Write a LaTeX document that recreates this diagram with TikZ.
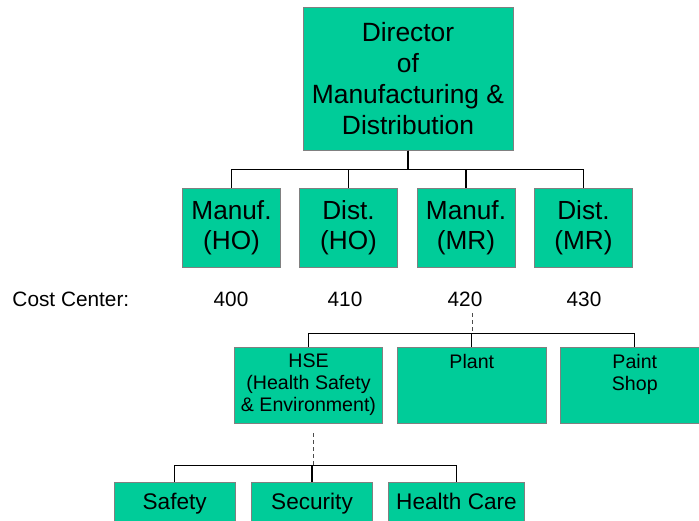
\documentclass[tikz,border=0pt]{standalone}
\usepackage{fontspec}
\setmainfont{Liberation Sans}
\definecolor{chartgreen}{RGB}{0,204,153}
\definecolor{chartgray}{RGB}{128,128,128}

\begin{document}
\begin{tikzpicture}[x=1pt,y=1pt]
    \tikzstyle{unit}=[draw=chartgray,fill=chartgreen,line width=1pt,inner sep=0pt,align=center]
    \tikzstyle{big}=[unit,font=\fontsize{26.4}{31}\selectfont,minimum width=210pt,minimum height=143pt]
    \tikzstyle{mid}=[unit,font=\fontsize{26.2}{30}\selectfont,minimum width=98pt,minimum height=79pt]
    \tikzstyle{dept}=[unit,minimum width=149pt,minimum height=76pt]
    \tikzstyle{depttext}=[inner sep=0pt,align=center,anchor=north,font=\fontsize{19.6}{22}\selectfont]
    \tikzstyle{leaf}=[unit,anchor=north,font=\fontsize{22.6}{27}\selectfont,text height=27.6pt,text depth=30pt]
    \tikzstyle{note}=[inner sep=0pt,font=\fontsize{20.8}{24}\selectfont]
    \tikzstyle{link}=[line width=1.3pt,black]
    \tikzstyle{cut}=[line width=1pt,black!70,dash pattern=on 4pt off 3pt]
    \useasboundingbox (0,0) rectangle (699,-520);
    \node (dir)[big] at (408,-78.5) {Director\\of\\Manufacturing \&\\Distribution};
    \foreach \n/\x/\t/\s in {mho/231.5/Manuf./HO, dho/348.5/Dist./HO, mmr/466/Manuf./MR, dmr/583.5/Dist./MR}
        \node (\n)[mid] at (\x,-227.5) {\t\\(\s)};
    \foreach \n in {mho,dho,mmr,dmr}
        \draw[link] (dir.south) -- ++(0,-19) -| (\n.north);
    \node (cc)[note,anchor=base west] at (12.3,-306.7) {Cost Center:};
    \foreach \n/\x/\v in {c400/231/400, c410/345/410, c420/465/420, c430/584/430}
        \node (\n)[note,anchor=base] at (\x,-306.7) {\v};
    \node (hse)[dept,minimum width=148.4pt] at (308.5,-385) {};
    \node (plant)[dept] at (471.8,-385) {};
    \node (paint)[dept] at (634.8,-385) {};
    \node (hsetext)[depttext] at ([yshift=-7.3pt]hse.north) {HSE\\(Health Safety\\\& Environment)};
    \node (planttext)[depttext] at ([yshift=-7.3pt]plant.north) {Plant};
    \node (painttext)[depttext] at ([yshift=-7.3pt]paint.north) {Paint\\Shop};
    \coordinate (top3) at (472.7,-313);
    \coordinate (hub3) at (472.7,-333.7);
    \draw[cut] (top3) -- (hub3);
    \foreach \n in {hse,plant,paint}
        \draw[link] (hub3) -| (\n.north);
    \node (safety)[leaf,minimum width=120.7pt] at (174.7,-481.7) {Safety};
    \node (security)[leaf,minimum width=120.6pt] at (312,-481.7) {Security};
    \node (care)[leaf,minimum width=135.6pt] at (456.5,-481.7) {Health Care};
    \coordinate (top4) at (313.3,-433);
    \coordinate (hub4) at (313.3,-465.7);
    \draw[cut] (top4) -- (hub4);
    \foreach \n in {safety,security,care}
        \draw[link] (hub4) -| (\n.north);
\end{tikzpicture}
\end{document}
